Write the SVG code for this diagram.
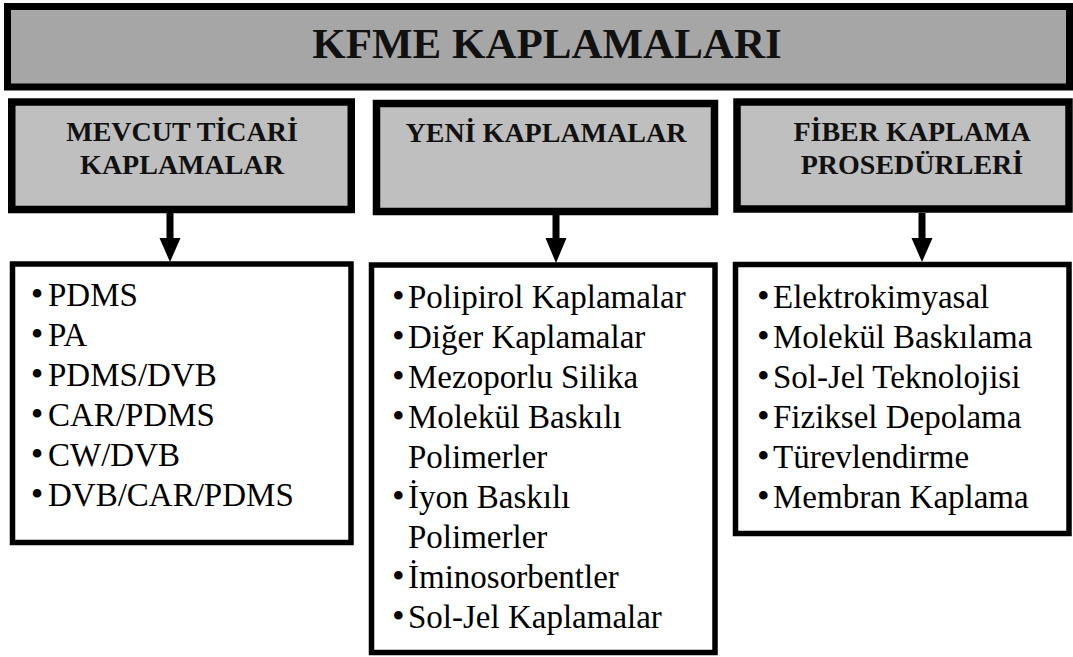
<svg xmlns="http://www.w3.org/2000/svg" width="1073" height="657" viewBox="0 0 1073 657">
<defs>
<style>
.banner{fill:#a6a6a6;stroke:#000;stroke-width:7}
.hdr{fill:#bfbfbf;stroke:#000;stroke-width:7.5}
.lst{fill:#fff;stroke:#000;stroke-width:5.5}
.title{font-family:'Liberation Serif','Times New Roman',serif;font-weight:bold;font-size:43px;fill:#111;text-anchor:middle}
.ht{font-family:'Liberation Serif','Times New Roman',serif;font-weight:bold;font-size:28px;fill:#111;text-anchor:middle}
.it{font-family:'Liberation Serif','Times New Roman',serif;font-size:33px;fill:#000}
.b{font-family:'Liberation Serif','Times New Roman',serif;font-size:36px;fill:#000}
.arrow{stroke:#000;stroke-width:7;fill:none}
.head{fill:#000}
</style>
</defs>
<rect width="1073" height="657" fill="#fff"/>
<g id="banner">
<rect class="banner" x="7.5" y="6.5" width="1062" height="80.5"/>
<text class="title" x="547" y="58">KFME KAPLAMALARI</text>
</g>
<g id="hdr1">
<rect class="hdr" x="11.75" y="102" width="339.5" height="107.5"/>
<text class="ht" x="182" y="141">MEVCUT TİCARİ</text>
<text class="ht" x="182" y="174">KAPLAMALAR</text>
</g>
<g id="hdr2">
<rect class="hdr" x="376.5" y="103.5" width="338" height="108"/>
<text class="ht" x="546" y="142">YENİ KAPLAMALAR</text>
</g>
<g id="hdr3">
<rect class="hdr" x="737" y="102" width="332" height="107"/>
<text class="ht" x="912" y="141">FİBER KAPLAMA</text>
<text class="ht" x="912" y="174">PROSEDÜRLERİ</text>
</g>
<g id="connectors">
<line class="arrow" x1="170" y1="213" x2="170" y2="240"/>
<polygon class="head" points="159.5,238 180.5,238 170,262"/>
<line class="arrow" x1="556" y1="215" x2="556" y2="240"/>
<polygon class="head" points="545.5,238 566.5,238 556,263"/>
<line class="arrow" x1="922" y1="213" x2="922" y2="240"/>
<polygon class="head" points="911.5,238 932.5,238 922,262"/>
</g>
<g id="list1">
<rect class="lst" x="12.5" y="264" width="338.5" height="278.5"/>
<text class="b" x="30.7" y="306">•</text><text class="it" x="48" y="306">PDMS</text>
<text class="b" x="30.7" y="346">•</text><text class="it" x="48" y="346">PA</text>
<text class="b" x="30.7" y="386">•</text><text class="it" x="48" y="386">PDMS/DVB</text>
<text class="b" x="30.7" y="426">•</text><text class="it" x="48" y="426">CAR/PDMS</text>
<text class="b" x="30.7" y="466">•</text><text class="it" x="48" y="466">CW/DVB</text>
<text class="b" x="30.7" y="506">•</text><text class="it" x="48" y="506">DVB/CAR/PDMS</text>
</g>
<g id="list2">
<rect class="lst" x="371.5" y="265" width="343.5" height="387.5"/>
<text class="b" x="392" y="308">•</text><text class="it" x="408" y="308">Polipirol Kaplamalar</text>
<text class="b" x="392" y="348">•</text><text class="it" x="408" y="348">Diğer Kaplamalar</text>
<text class="b" x="392" y="388">•</text><text class="it" x="408" y="388">Mezoporlu Silika</text>
<text class="b" x="392" y="428">•</text><text class="it" x="408" y="428">Molekül Baskılı</text>
<text class="it" x="408" y="468">Polimerler</text>
<text class="b" x="392" y="508">•</text><text class="it" x="408" y="508">İyon Baskılı</text>
<text class="it" x="408" y="548">Polimerler</text>
<text class="b" x="392" y="588">•</text><text class="it" x="408" y="588">İminosorbentler</text>
<text class="b" x="392" y="628">•</text><text class="it" x="408" y="628">Sol-Jel Kaplamalar</text>
</g>
<g id="list3">
<rect class="lst" x="735.5" y="264.5" width="333.5" height="269"/>
<text class="b" x="757" y="308">•</text><text class="it" x="773" y="308">Elektrokimyasal</text>
<text class="b" x="757" y="348">•</text><text class="it" x="773" y="348">Molekül Baskılama</text>
<text class="b" x="757" y="388">•</text><text class="it" x="773" y="388">Sol-Jel Teknolojisi</text>
<text class="b" x="757" y="428">•</text><text class="it" x="773" y="428">Fiziksel Depolama</text>
<text class="b" x="757" y="468">•</text><text class="it" x="773" y="468">Türevlendirme</text>
<text class="b" x="757" y="508">•</text><text class="it" x="773" y="508">Membran Kaplama</text>
</g>
</svg>
